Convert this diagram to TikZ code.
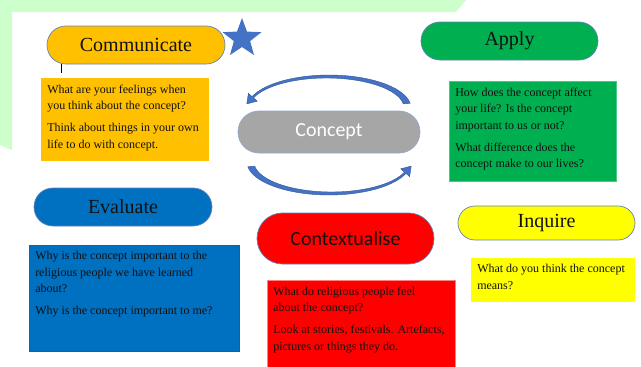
\documentclass[tikz,border=0pt]{standalone}
\usepackage{fontspec}
\setmainfont{Liberation Serif}
\newfontfamily\carlito{Carlito}
\usetikzlibrary{shapes.geometric}
\definecolor{bggreen}{HTML}{CCFFCC}
\definecolor{cyellow}{HTML}{FFC000}
\definecolor{cgreen}{HTML}{00B050}
\definecolor{cblue}{HTML}{0070C0}
\definecolor{cred}{HTML}{FF0000}
\definecolor{cyell}{HTML}{FFFF00}
\definecolor{cgrey}{HTML}{A6A6A6}
\definecolor{starblue}{HTML}{4472C4}
\definecolor{arrowdark}{HTML}{2F5597}
\definecolor{pillline}{HTML}{6482B9}
\definecolor{txt}{HTML}{111111}
\newcommand{\boxtxt}[3]{\begin{minipage}[c][#2][t]{#1}\fontsize{12}{16.5}\selectfont\color{txt}\leftskip=6pt\rightskip=0pt plus 1fil\parindent=0pt\parskip=5.5pt\vspace*{6.3pt}#3\end{minipage}}
\tikzset{
  pill/.style={draw=pillline, line width=0.7pt, rounded corners=#1, inner sep=0pt,
    font=\fontsize{20}{24}\selectfont, text=txt},
  qbox/.style={anchor=north west, inner sep=0pt, line width=0.5pt},
  arrowshape/.style={fill=starblue, draw=arrowdark, line width=0.4pt}
}
\begin{document}
\begin{tikzpicture}[x=1pt,y=-1pt]
\useasboundingbox (0,0) rectangle (641,367);
% background
\fill[bggreen] (0,0) -- (466,0) -- (456,12) -- (12,12) -- (12,150) -- (0,145) -- cycle;

% pills
\node[pill=18.9pt, fill=cyellow, minimum width=178pt, minimum height=38pt] (communicate) at (136,45) {Communicate};
\node[star, star points=5, star point ratio=2.4, minimum size=41pt, inner sep=0pt, fill=starblue] (star) at (242,38.5) {};
\coordinate (cur1) at (61,64);
\coordinate (cur2) at (61,73);
\draw[line width=0.9pt, black] (cur1) -- (cur2);

\node[pill=18.9pt, fill=cgreen, minimum width=177pt, minimum height=38pt] (apply) at (509.5,41) {Apply};
\node[pill=20.9pt, fill=cgrey, draw=pillline!70, minimum width=182pt, minimum height=42pt, font=\carlito\fontsize{20}{24}\selectfont, text=white] (concept) at (329,132) {Concept};
\node[pill=18.9pt, fill=cblue, minimum width=178pt, minimum height=38pt] (evaluate) at (123,207) {Evaluate};
\node[pill=25.4pt, fill=cred, minimum width=177pt, minimum height=51pt, font=\carlito\fontsize{20}{24}\selectfont] (contextualise) at (345.5,238.5) {Contextualise};
\node[pill=16.9pt, fill=cyell, minimum width=177pt, minimum height=34pt] (inquire) at (546.5,223) {Inquire};

% question boxes
\node[qbox, fill=cyellow] (communicatebox) at (41,78) {\boxtxt{168pt}{83pt}{What are your feelings when\\ you think about the concept?\par Think about things in your own\\ life to do with concept.}};
\node[qbox, fill=cgreen, draw=cgreen!70!white] (applybox) at (449,81) {\boxtxt{167pt}{100pt}{How does the concept affect\\ your life? Is the concept\\ important to us or not?\par What difference does the\\ concept make to our lives?}};
\node[qbox, fill=cblue, draw=arrowdark] (evaluatebox) at (29,245) {\boxtxt{210pt}{106pt}{Why is the concept important to the\\ religious people we have learned\\ about?\par Why is the concept important to me?}};
\node[qbox, fill=cred, draw=cred!50!white] (contextualisebox) at (267,280) {\boxtxt{188pt}{87pt}{What do religious people feel\\ about the concept?\par Look at stories, festivals. Artefacts,\\ pictures or things they do.}};
\node[qbox, fill=cyell] (inquirebox) at (471,258) {\boxtxt{164pt}{44pt}{What do you think the concept\\ means?}};

% curved arrows around Concept
\fill[arrowshape] plot[domain=8:160, samples=40] ({329+82*cos(\x)},{108-33*sin(\x)})
  -- (248.4,93.2) -- (246.8,103.9) -- (257.2,101.2)
  -- plot[domain=160:8, samples=40] ({326.5+77.5*cos(\x)},{108-30*sin(\x)}) -- cycle;
\begin{scope}[rotate around={180:(329,135)}]
\fill[arrowshape] plot[domain=8:160, samples=40] ({329+82*cos(\x)},{108-33*sin(\x)})
  -- (248.4,93.2) -- (246.8,103.9) -- (257.2,101.2)
  -- plot[domain=160:8, samples=40] ({326.5+77.5*cos(\x)},{108-30*sin(\x)}) -- cycle;
\end{scope}
\end{tikzpicture}
\end{document}
